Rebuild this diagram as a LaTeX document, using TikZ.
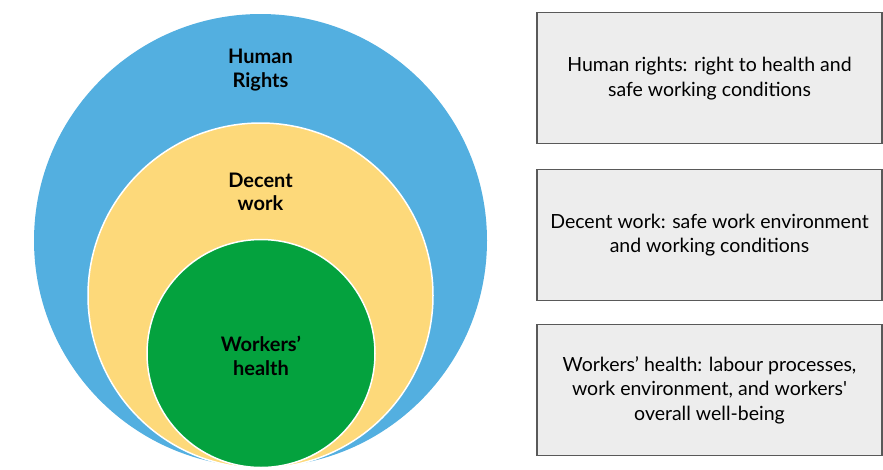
\documentclass[tikz,border=0pt]{standalone}
\usepackage{fontspec}
\setmainfont{Lato}[Ligatures=TeXOff]
\definecolor{hrblue}{HTML}{53AFE0}
\definecolor{dwyellow}{HTML}{FDD97A}
\definecolor{whgreen}{HTML}{04A23E}
\definecolor{boxfill}{HTML}{EDEDED}
\definecolor{boxline}{HTML}{595959}
\begin{document}
\begin{tikzpicture}[x=1pt,y=-1pt,
  ring/.style={circle,draw=white,line width=1.5pt,inner sep=0pt},
  circlabel/.style={align=center,font=\fontsize{20}{23.5}\selectfont\bfseries,text=black},
  infobox/.style={draw=boxline,fill=boxfill,line width=1.2pt,minimum width=345pt,minimum height=131pt,inner sep=0pt,align=center,font=\fontsize{19.5}{24.6}\selectfont}]
\useasboundingbox (0,0) rectangle (883,469);
\node[ring,draw=none,fill=hrblue,minimum size=453pt] (hr) at (260.5,240.5) {};
\node[ring,fill=dwyellow,minimum size=345pt] (dw) at (260.5,295.5) {};
\node[ring,fill=whgreen,minimum size=228pt] (wh) at (261,353.5) {};
\node[circlabel] (hrl) at (260.5,70) {Human\\Rights};
\node[circlabel] (dwl) at (260.5,192) {Decent\\work};
\node[circlabel] (whl) at (261,356) {Workers’\\health};
\node[infobox] (b1) at (709.5,78.3) {Human rights: right to health and\\safe working conditions};
\node[infobox] (b2) at (709.5,235.2) {Decent work: safe work environment\\and working conditions};
\node[infobox] (b3) at (709.5,390) {Workers’ health: labour processes,\\work environment, and workers'\\overall well-being};
\end{tikzpicture}
\end{document}
